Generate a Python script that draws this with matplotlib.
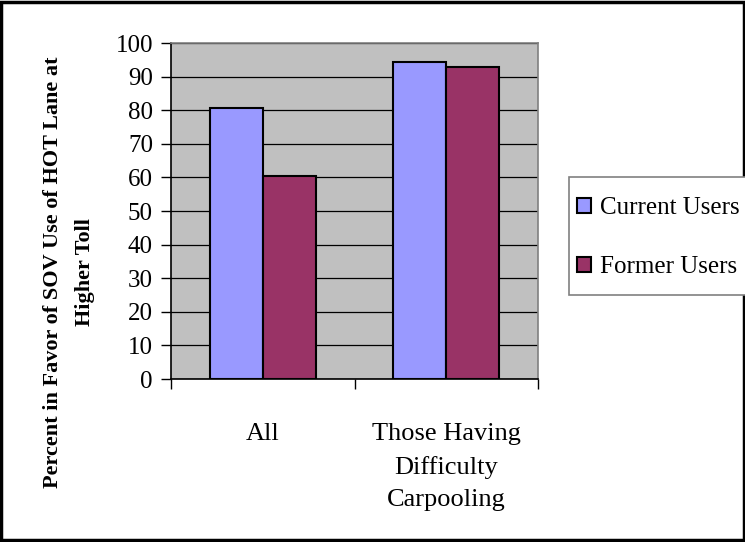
import matplotlib
matplotlib.use('Agg')
import matplotlib.pyplot as plt
import numpy as np
from matplotlib.patches import Rectangle, Patch

# data
categories = ['All', 'Those Having\nDifficulty\nCarpooling']
series_names = ['Current Users', 'Former Users']
current_users = [80.6, 94.2]
former_users = [60.5, 93.0]
yticks = list(range(0, 101, 10))

COLORS = ['#9999FF', '#993366']
SERIF = ['Liberation Serif', 'DejaVu Serif']

plt.rcParams['font.family'] = SERIF

fig = plt.figure(figsize=(7.45, 5.42), dpi=100)
ax = fig.add_axes([171 / 745, 1 - 379 / 542, (538 - 171) / 745, (379 - 43) / 542])
ax.set_facecolor('#C0C0C0')

x = np.arange(len(categories))
w = 0.29
ax.bar(x - w / 2, current_users, w, color=COLORS[0], edgecolor='black', lw=1.5, zorder=3)
ax.bar(x + w / 2, former_users, w, color=COLORS[1], edgecolor='black', lw=1.5, zorder=3)

ax.set_xlim(-0.5, 1.5)
ax.set_ylim(0, 100)
ax.set_yticks(yticks)
ax.set_yticklabels([str(t) for t in yticks], fontsize=18)
ax.yaxis.grid(True, color='black', lw=0.9, zorder=1)
ax.set_axisbelow(True)

# category labels between boundary ticks, like excel
ax.set_xticks([-0.5, 0.5, 1.5])
ax.set_xticklabels([])
ax.set_xticks(x, minor=True)
ax.set_xticklabels(categories, minor=True, fontsize=19, linespacing=1.6, va='top')
ax.tick_params(axis='x', which='minor', length=0, pad=32)
ax.tick_params(axis='x', which='major', length=7, width=1, direction='out')
ax.tick_params(axis='y', length=7, width=1, direction='out', pad=6)

for s in ['top', 'right']:
    ax.spines[s].set_color('#808080')
    ax.spines[s].set_linewidth(1.2)
for s in ['left', 'bottom']:
    ax.spines[s].set_color('black')
    ax.spines[s].set_linewidth(1.2)

fig.text(53 / 745, 1 - 272 / 542, 'Percent in Favor of SOV Use of HOT Lane at',
         rotation=90, ha='center', va='center', fontsize=16, fontweight='bold')
fig.text(85 / 745, 1 - 272 / 542, 'Higher Toll',
         rotation=90, ha='center', va='center', fontsize=16, fontweight='bold')

# legend frame drawn by hand, it runs off the right edge in the original
fig.patches.append(Rectangle((569 / 745, 1 - 295 / 542), 200 / 745, 118 / 542,
                             transform=fig.transFigure, facecolor='white',
                             edgecolor='#808080', lw=1.2, zorder=2))
handles = [Patch(facecolor=c, edgecolor='black', lw=1.5) for c in COLORS]
leg = fig.legend(handles, series_names, loc='upper left',
                 bbox_to_anchor=(577 / 745, 1 - 197 / 542), fontsize=18,
                 frameon=False, borderpad=0, labelspacing=1.48,
                 handlelength=0.55, handleheight=0.55, handletextpad=0.36,
                 borderaxespad=0)
leg.set_zorder(3)

fig.patches.append(Rectangle((0.002, 0.003), 0.996, 0.994, transform=fig.transFigure,
                             fill=False, edgecolor='black', lw=2.5))

fig.savefig('out.png', dpi=100)
